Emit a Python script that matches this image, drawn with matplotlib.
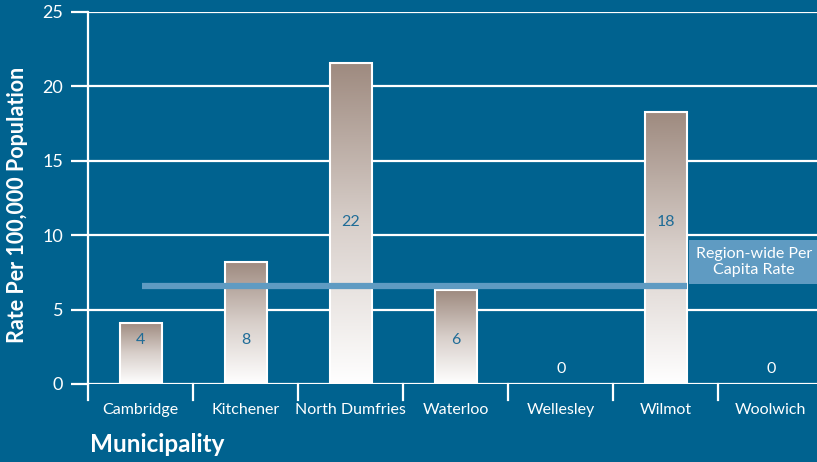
import numpy as np
import matplotlib.pyplot as plt
from matplotlib.colors import LinearSegmentedColormap

municipalities = ["Cambridge", "Kitchener", "North Dumfries", "Waterloo",
                  "Wellesley", "Wilmot", "Woolwich"]
rates = [4.1, 8.2, 21.6, 6.3, 0, 18.3, 0]
rate_labels = ["4", "8", "22", "6", "0", "18", "0"]
region_rate = 6.6

bg = "#00628f"
line_col = "#5f9bc2"
label_col = "#1f6c97"

plt.rcParams["font.family"] = ["Lato", "DejaVu Sans"]

fig = plt.figure(figsize=(8.17, 4.62), dpi=100, facecolor=bg)
ax = fig.add_axes([88 / 817, 1 - 384 / 462, (817 - 88) / 817, (384 - 12) / 462])
ax.set_facecolor(bg)

x = np.arange(len(municipalities))
ax.set_xlim(-0.5, 6.44)
ax.set_ylim(0, 25)

# white grid
for yv in range(0, 26, 5):
    ax.axhline(yv, color="white", lw=1.6, zorder=1)

# gradient bars
cmap = LinearSegmentedColormap.from_list("barg", ["#ffffff", "#d8cfca", "#9e8a7f"])
grad = np.linspace(0, 1, 256).reshape(-1, 1)
w = 0.4
for xi, v in zip(x, rates):
    if v <= 0:
        continue
    ax.imshow(grad, cmap=cmap, origin="lower", aspect="auto",
              extent=[xi - w / 2, xi + w / 2, 0, v], zorder=2)
    ax.bar(xi, v, width=w, facecolor="none", edgecolor="white", lw=1.5, zorder=3)

# value labels
for xi, v, lab in zip(x, rates, rate_labels):
    if v <= 0:
        ax.text(xi, 1.0, lab, color="white", ha="center", va="center", fontsize=11.5, zorder=4)
    else:
        yl = 2.95 if v < 10 else 10.9
        ax.text(xi, yl, lab, color=label_col, ha="center", va="center", fontsize=11.5, zorder=4)

# region-wide rate line
ax.plot([0.01, 5.2], [region_rate, region_rate], color=line_col, lw=4.5,
        solid_capstyle="butt", zorder=5)
ax.text(5.84, 8.2, "Region-wide Per\nCapita Rate", color="white", ha="center",
        va="center", fontsize=11.5, linespacing=1.25, zorder=6,
        bbox=dict(boxstyle="square,pad=0.4", fc=line_col, ec="none"))

for s in ["top", "right", "bottom"]:
    ax.spines[s].set_visible(False)
ax.spines["left"].set_color("white")
ax.spines["left"].set_linewidth(1.6)

ax.set_yticks(range(0, 26, 5))
ax.tick_params(axis="y", colors="white", labelsize=13, length=12, width=1.6, pad=6)
ax.set_xticks(x)
ax.set_xticklabels(municipalities, color="white", fontsize=11.5)
ax.tick_params(axis="x", length=0, pad=14)

# category separators below the axis
for b in np.arange(-0.5, 6.5, 1.0):
    ax.plot([b, b], [0, -1.1], color="white", lw=1.6, clip_on=False, zorder=1)

fig.text(18 / 817, 1 - 205 / 462, "Rate Per 100,000 Population", color="white",
         fontsize=15.5, fontweight="bold", rotation=90, ha="center", va="center")
fig.text(90 / 817, 1 - 445 / 462, "Municipality", color="white", fontsize=17.5,
         fontweight="bold", va="center", ha="left")

fig.savefig("out.png", dpi=100, facecolor=bg)
